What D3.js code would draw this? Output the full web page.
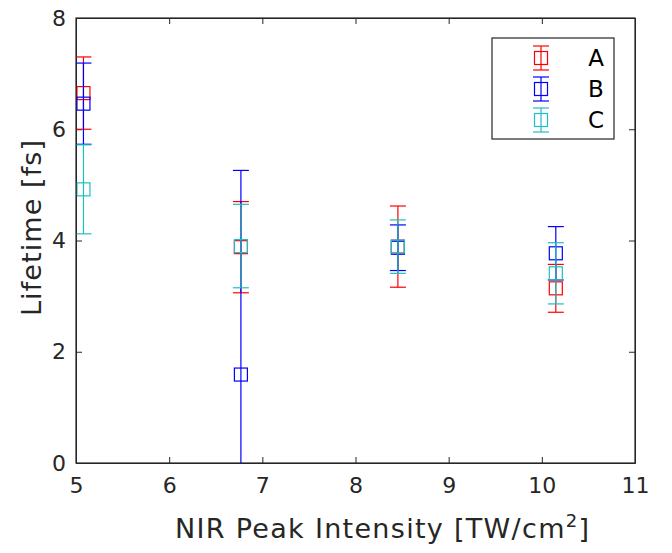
<!DOCTYPE html>
<html lang="en">
<style>
body { margin: 0; background: white; }
svg { display: block; font-family: "DejaVu Sans", sans-serif; }
.axis line, .axis path { stroke: #262626; }
.axis text { fill: #262626; }
.label { fill: #262626; font-size: 27px; }
.leg { fill: #000; font-size: 23px; }
</style>
<body>
<svg width="672" height="553"></svg>
<script src="https://cdn.jsdelivr.net/npm/d3@7"></script>
<script>
// NIR peak intensity (TW/cm^2) for each measurement
var intensity = [5.08, 6.77, 8.455, 10.15];

var lifeA = [6.65, 3.88, 3.89, 3.14];
var errA  = [0.65, 0.82, 0.73, 0.43];
var lifeB = [6.46, 1.59, 3.87, 3.77];
var errB  = [0.73, 3.67, 0.41, 0.48];
var lifeC = [4.92, 3.90, 3.89, 3.41];
var errC  = [0.80, 0.75, 0.48, 0.55];

var xTicks = [5, 6, 7, 8, 9, 10, 11];
var yTicks = [0, 2, 4, 6, 8];

var series = [
    {name: "A", color: "#ff0000", y: lifeA, e: errA},
    {name: "B", color: "#0000ff", y: lifeB, e: errB},
    {name: "C", color: "#1fbfbf", y: lifeC, e: errC}
];

var svg = d3.select("svg");
var margin = {left: 76, right: 37, top: 18, bottom: 90};
var width = 672 - margin.left - margin.right;
var height = 553 - margin.top - margin.bottom;

var g = svg.append("g")
    .attr("transform", "translate(" + margin.left + "," + margin.top + ")");

var x = d3.scaleLinear().domain([5, 11]).range([0, width]);
var y = d3.scaleLinear().domain([0, 8]).range([height, 0]);

g.append("clipPath").attr("id", "clip")
  .append("rect").attr("width", width).attr("height", height);

var tickLen = 6;

// axes with inward ticks on all four sides
g.append("g").attr("class", "axis")
    .attr("transform", "translate(0," + height + ")")
    .call(d3.axisBottom(x).tickValues(xTicks).tickFormat(d3.format("d"))
        .tickSizeInner(-tickLen).tickSizeOuter(0).tickPadding(14));
g.append("g").attr("class", "axis")
    .call(d3.axisLeft(y).tickValues(yTicks).tickFormat(d3.format("d"))
        .tickSizeInner(-tickLen).tickSizeOuter(0).tickPadding(10));
g.append("g").attr("class", "axis")
    .call(d3.axisTop(x).tickValues(xTicks).tickSizeInner(-tickLen).tickSizeOuter(0).tickFormat(""));
g.append("g").attr("class", "axis")
    .attr("transform", "translate(" + width + ",0)")
    .call(d3.axisRight(y).tickValues(yTicks).tickSizeInner(-tickLen).tickSizeOuter(0).tickFormat(""));

g.selectAll(".axis text").attr("font-size", 22).attr("font-family", "DejaVu Sans");

var cap = 8, half = 6.5;
var plot = g.append("g").attr("clip-path", "url(#clip)");

series.forEach(function(s) {
    var pts = intensity.map(function(v, i) { return {x: v, y: s.y[i], e: s.e[i]}; });
    var sg = plot.append("g").attr("stroke", s.color).attr("fill", "none").attr("stroke-width", 1.2);
    sg.selectAll(".bar").data(pts).enter().append("line")
        .attr("x1", function(d) { return x(d.x); })
        .attr("x2", function(d) { return x(d.x); })
        .attr("y1", function(d) { return y(d.y - d.e); })
        .attr("y2", function(d) { return y(d.y + d.e); });
    sg.selectAll(".top").data(pts).enter().append("line")
        .attr("x1", function(d) { return x(d.x) - cap; })
        .attr("x2", function(d) { return x(d.x) + cap; })
        .attr("y1", function(d) { return y(d.y + d.e); })
        .attr("y2", function(d) { return y(d.y + d.e); });
    sg.selectAll(".bot").data(pts).enter().append("line")
        .attr("x1", function(d) { return x(d.x) - cap; })
        .attr("x2", function(d) { return x(d.x) + cap; })
        .attr("y1", function(d) { return y(d.y - d.e); })
        .attr("y2", function(d) { return y(d.y - d.e); });
    sg.selectAll("rect").data(pts).enter().append("rect")
        .attr("x", function(d) { return x(d.x) - half; })
        .attr("y", function(d) { return y(d.y) - half; })
        .attr("width", half * 2)
        .attr("height", half * 2);
});

// border on top of everything
g.append("rect").attr("width", width).attr("height", height)
    .attr("fill", "none").attr("stroke", "#262626").attr("stroke-width", 1.2);

// axis labels
svg.append("text").attr("class", "label")
    .attr("x", 175)
    .attr("y", 538)
    .attr("letter-spacing", 1.3)
    .html('NIR Peak Intensity [TW/cm<tspan dy="-11" font-size="18">2</tspan><tspan dy="11">]</tspan>');

svg.append("text").attr("class", "label")
    .attr("text-anchor", "middle")
    .attr("letter-spacing", 1.1)
    .attr("transform", "translate(41," + (margin.top + height / 2 - 13) + ") rotate(-90)")
    .text("Lifetime [fs]");

// legend
var leg = svg.append("g").attr("transform", "translate(492,38)");
leg.append("rect").attr("width", 122).attr("height", 101)
    .attr("fill", "white").attr("stroke", "#262626").attr("stroke-width", 1.2);
series.forEach(function(s, i) {
    var ly = 20 + i * 31, lx = 49;
    var lg = leg.append("g").attr("stroke", s.color).attr("fill", "none").attr("stroke-width", 1.2);
    lg.append("line").attr("x1", lx).attr("x2", lx).attr("y1", ly - 12).attr("y2", ly + 12);
    lg.append("line").attr("x1", lx - 8).attr("x2", lx + 8).attr("y1", ly - 12).attr("y2", ly - 12);
    lg.append("line").attr("x1", lx - 8).attr("x2", lx + 8).attr("y1", ly + 12).attr("y2", ly + 12);
    lg.append("rect").attr("x", lx - 6.5).attr("y", ly - 6.5).attr("width", 13).attr("height", 13);
    leg.append("text").attr("class", "leg")
        .attr("x", 104).attr("y", ly + 8)
        .attr("text-anchor", "middle")
        .text(s.name);
});
</script>
</body>
</html>
